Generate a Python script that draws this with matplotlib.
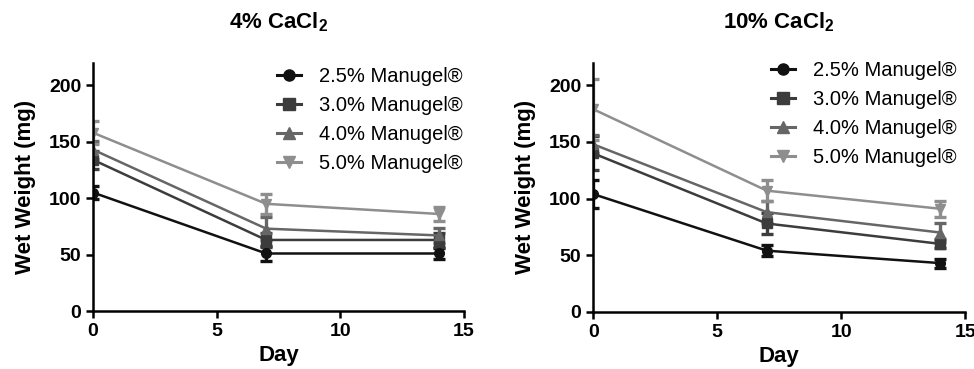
#!/usr/bin/env python3
# Wet weight over time for two CaCl2 concentrations
import matplotlib
matplotlib.use("Agg")
import matplotlib.pyplot as plt
from matplotlib.lines import Line2D

plt.rcParams["font.family"] = ["Liberation Sans", "DejaVu Sans"]
plt.rcParams["mathtext.fontset"] = "custom"
plt.rcParams["mathtext.bf"] = "Liberation Sans:bold"
plt.rcParams["mathtext.rm"] = "Liberation Sans"

days = [0, 7, 14]
labels = ["2.5% Manugel®", "3.0% Manugel®", "4.0% Manugel®", "5.0% Manugel®"]
colors = ["#111111", "#3c3c3c", "#666666", "#8e8e8e"]
markers = ["o", "s", "^", "v"]

# 4% CaCl2
mean_4 = [
    [105, 51, 51],
    [134, 63, 63],
    [143, 73, 67],
    [158, 95, 86],
]
err_4 = [
    [6, 7, 5],
    [8, 6, 6],
    [8, 10, 7],
    [10, 9, 6],
]

# 10% CaCl2
mean_10 = [
    [104, 54, 43],
    [140, 78, 60],
    [148, 88, 70],
    [179, 107, 91],
]
err_10 = [
    [12, 5, 4],
    [15, 9, 4],
    [8, 10, 8],
    [27, 9, 7],
]

fig = plt.figure(figsize=(9.74, 3.69), dpi=100)
ax1 = fig.add_axes([0.0955, 0.157, 0.381, 0.673])
ax2 = fig.add_axes([0.609, 0.155, 0.382, 0.675])

panels = [
    (ax1, mean_4, err_4, r"4% CaCl$_\mathbf{2}$", (1.03, 1.032)),
    (ax2, mean_10, err_10, r"10% CaCl$_\mathbf{2}$", (1.01, 1.055)),
]

for ax, means, errs, title, anchor in panels:
    handles = []
    for m, e, lab, c, mk in zip(means, errs, labels, colors, markers):
        ax.errorbar(days, m, yerr=e, color=c, marker=mk, markersize=7,
                    linewidth=1.8, elinewidth=2.4, capsize=4, capthick=2.4)
        handles.append(Line2D([], [], color=c, marker=mk, markersize=8,
                              linewidth=2.2, label=lab))
    ax.set_xlim(0, 15)
    ax.set_ylim(0, 220)
    ax.set_xticks([0, 5, 10, 15])
    ax.set_yticks([0, 50, 100, 150, 200])
    ax.spines["top"].set_visible(False)
    ax.spines["right"].set_visible(False)
    ax.spines["left"].set_linewidth(1.8)
    ax.spines["bottom"].set_linewidth(1.8)
    ax.tick_params(width=1.8, length=5, labelsize=14)
    for t in ax.get_xticklabels() + ax.get_yticklabels():
        t.set_fontweight("bold")
    ax.set_xlabel("Day", fontsize=16, fontweight="bold", labelpad=4)
    ax.set_ylabel("Wet Weight (mg)", fontsize=16, fontweight="bold",
                  labelpad=9)
    ax.set_title(title, fontsize=16, fontweight="bold", pad=25)
    ax.legend(handles=handles, loc="upper right", bbox_to_anchor=anchor,
              frameon=False, fontsize=14.5, handlelength=1.2,
              labelspacing=0.5, handletextpad=0.9, borderaxespad=0.2)

fig.savefig("out.png", dpi=100)
